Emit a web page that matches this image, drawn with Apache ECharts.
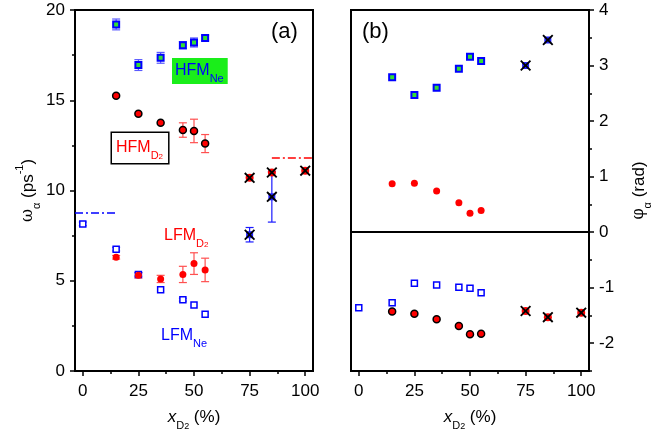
<!DOCTYPE html>
<html>
<head>
<meta charset="utf-8">
<script src="https://cdn.jsdelivr.net/npm/echarts@6/dist/echarts.min.js"></script>
<style>html,body{margin:0;background:#fff}#main{width:654px;height:441px}</style>
</head>
<body>
<div id="main"></div>
<script>
var myChart = echarts.init(document.getElementById('main'));

// composition x_D2 (%)
var xHFM = [15, 25, 35, 45, 50, 55];
var xLFMNe = [0, 15, 25, 35, 45, 50, 55];
var xCrossD2 = [75, 85, 100];
var xCrossNe = [75, 85];

// panel (a): frequencies (ps^-1)
var wHFMNe = [19.2, 16.95, 17.35, 18.05, 18.2, 18.45];
var eHFMNe = [0.3, 0.3, 0.3, 0.2, 0.25, 0.15];
var wHFMD2 = [15.25, 14.25, 13.75, 13.35, 13.3, 12.6];
var eHFMD2 = [0, 0, 0, 0.4, 0.65, 0.5];
var wLFMNe = [8.15, 6.75, 5.35, 4.5, 3.95, 3.65, 3.15];
var eLFMNe = [0.1, 0.1, 0.1, 0, 0.08, 0, 0];
var wLFMD2 = [6.3, 5.3, 5.1, 5.35, 5.95, 5.6];
var eLFMD2 = [0.1, 0.15, 0.2, 0.45, 0.6, 0.65];
var wCrossD2 = [10.7, 11.0, 11.1];
var wCrossNe = [7.55, 9.65];
var eCrossNe = [0.4, 1.4];
var refNeX = [-3.5, 15], refNeW = 8.75;
var refD2X = [85, 103.5], refD2W = 11.8;

// panel (b): phases (rad)
var phHFMNe = [2.79, 2.47, 2.6, 2.94, 3.16, 3.08];
var phCrossNe = [3.0, 3.46];
var phUpperD2 = [0.87, 0.88, 0.74, 0.53, 0.34, 0.39];
var phLFMNe = [-1.36, -1.27, -0.92, -0.95, -0.99, -1.01, -1.09];
var phLowerD2 = [-1.43, -1.47, -1.57, -1.69, -1.84, -1.83];
var phCrossD2 = [-1.42, -1.53, -1.45];

// ticks
var xTicks = [0, 25, 50, 75, 100];
var xMinor = [12.5, 37.5, 62.5, 87.5];
var phTicks = [-2, -1, 0, 1, 2, 3, 4];
var phMinor = [-2.5, -1.5, -0.5, 0.5, 1.5, 2.5, 3.5];

var FONT = 'Liberation Sans';
var BLUE = '#0000ff', RED = '#ff0000', GREEN = '#33dd33';
var XSYM = 'path://M0,1.2L1.2,0L5,3.8L8.8,0L10,1.2L6.2,5L10,8.8L8.8,10L5,6.2L1.2,10L0,8.8L3.8,5Z';

function pts(xs, ys) { return xs.map(function (x, i) { return [x, ys[i]]; }); }

function errBars(g, xs, ys, es, color) {
    var d = [];
    xs.forEach(function (x, i) { if (es[i] > 0) d.push([x, ys[i] - es[i], ys[i] + es[i]]); });
    return {
        type: 'custom', xAxisIndex: g, yAxisIndex: g, z: 1, silent: true, data: d,
        renderItem: function (params, api) {
            var lo = api.coord([api.value(0), api.value(1)]);
            var hi = api.coord([api.value(0), api.value(2)]);
            var st = {stroke: color, lineWidth: 1.2};
            return {type: 'group', children: [
                {type: 'line', shape: {x1: lo[0], y1: lo[1], x2: hi[0], y2: hi[1]}, style: st},
                {type: 'line', shape: {x1: lo[0] - 4, y1: lo[1], x2: lo[0] + 4, y2: lo[1]}, style: st},
                {type: 'line', shape: {x1: hi[0] - 4, y1: hi[1], x2: hi[0] + 4, y2: hi[1]}, style: st}
            ]};
        }
    };
}

function sc(g, data, symbol, size, fill, border, bw, z) {
    return {
        type: 'scatter', xAxisIndex: g, yAxisIndex: g, data: data, symbol: symbol, symbolSize: size,
        z: z || 3, silent: true,
        itemStyle: {color: fill, borderColor: border || fill, borderWidth: bw || 0, opacity: 1}
    };
}

function refLine(xs, w, color) {
    return {
        type: 'line', xAxisIndex: 0, yAxisIndex: 0, data: [[xs[0], w], [xs[1], w]], symbol: 'none',
        silent: true, lineStyle: {color: color, width: 1.5, type: [8, 3, 2, 3]}
    };
}

// rich text for the in-plot labels (zrender uses fill)
function labelRich(color) {
    return {
        a: {fontFamily: FONT, fontSize: 16, lineHeight: 26, fill: color},
        b: {fontFamily: FONT, fontSize: 11, lineHeight: 15, verticalAlign: 'bottom', fill: color},
        c: {fontFamily: FONT, fontSize: 8, lineHeight: 8, verticalAlign: 'bottom', fill: color}
    };
}

var labelStyle = {color: '#000', fontFamily: FONT, fontSize: 17};
var nameRich = {
    m: {fontFamily: FONT, fontSize: 17, lineHeight: 28, color: '#000'},
    i: {fontFamily: FONT, fontSize: 17, lineHeight: 28, fontStyle: 'italic', color: '#000'},
    g: {fontFamily: 'DejaVu Serif', fontSize: 16, lineHeight: 28, color: '#000'},
    s: {fontFamily: FONT, fontSize: 11, lineHeight: 16, verticalAlign: 'bottom', color: '#000'},
    ss: {fontFamily: FONT, fontSize: 9, lineHeight: 9, verticalAlign: 'bottom', color: '#000'},
    p: {fontFamily: FONT, fontSize: 11, lineHeight: 11, verticalAlign: 'top', color: '#000'}
};
var axLine = {show: true, onZero: false, lineStyle: {color: '#000', width: 2}};
var noLine = {show: false, onZero: false};

function xMain(g) {
    return {
        type: 'value', gridIndex: g, min: -3.5, max: 103.5, position: 'bottom',
        axisLine: axLine, splitLine: {show: false},
        axisTick: {show: true, length: 5, lineStyle: {color: '#000', width: 1.5}, customValues: xTicks},
        axisLabel: Object.assign({margin: 12, customValues: xTicks}, labelStyle),
        name: '{i|x}{s|D}{ss|2}{m| (%)}', nameLocation: 'middle', nameGap: 32,
        nameTextStyle: {rich: nameRich}
    };
}
function xMin(g) {
    return {
        type: 'value', gridIndex: g, min: -3.5, max: 103.5, position: 'bottom',
        axisLine: noLine, splitLine: {show: false}, axisLabel: {show: false},
        axisTick: {show: true, length: 3, lineStyle: {color: '#000', width: 1.5}, customValues: xMinor}
    };
}

var option = {
    animation: false,
    backgroundColor: '#fff',
    grid: [
        {left: 75, top: 10, width: 238, height: 361, show: true, borderColor: '#000', borderWidth: 2},
        {left: 351, top: 10, width: 239, height: 361, show: true, borderColor: '#000', borderWidth: 2}
    ],
    xAxis: [xMain(0), xMain(1), xMin(0), xMin(1)],
    yAxis: [
        {
            type: 'value', gridIndex: 0, min: 0, max: 20, interval: 5, position: 'left',
            axisLine: axLine, splitLine: {show: false},
            axisTick: {show: true, length: 5, lineStyle: {color: '#000', width: 1.5}},
            minorTick: {show: true, splitNumber: 2, length: 3, lineStyle: {color: '#000', width: 1.5}},
            axisLabel: Object.assign({margin: 10}, labelStyle),
            name: '{g|ω}{s|α}{m| (ps}{p|-1}{m|)}', nameLocation: 'middle', nameGap: 33, nameRotate: 90,
            nameTextStyle: {rich: nameRich}
        },
        {
            type: 'value', gridIndex: 1, min: -2.5, max: 4, position: 'right',
            axisLine: axLine, splitLine: {show: false},
            axisTick: {show: true, length: 5, lineStyle: {color: '#000', width: 1.5}, customValues: phTicks},
            axisLabel: Object.assign({margin: 10, customValues: phTicks}, labelStyle),
            name: '{g|φ}{s|α}{m| (rad)}', nameLocation: 'middle', nameGap: 36, nameRotate: 90,
            nameTextStyle: {rich: nameRich}
        },
        {
            type: 'value', gridIndex: 1, min: -2.5, max: 4, position: 'right',
            axisLine: noLine, splitLine: {show: false}, axisLabel: {show: false},
            axisTick: {show: true, length: 3, lineStyle: {color: '#000', width: 1.5}, customValues: phMinor}
        }
    ],
    graphic: [
        {type: 'text', x: 271, y: 32, style: {text: '(a)', font: '22px "Liberation Sans"', fill: '#000', verticalAlign: 'middle'}},
        {type: 'text', x: 362, y: 32, style: {text: '(b)', font: '22px "Liberation Sans"', fill: '#000', verticalAlign: 'middle'}},
        {type: 'text', x: 172, y: 71, style: {
            text: '{a|HFM}{b|Ne}', verticalAlign: 'middle', backgroundColor: '#1aee1a', padding: [0, 4, 0, 3],
            rich: labelRich(BLUE)
        }},
        {type: 'text', x: 112, y: 148, style: {
            text: '{a|HFM}{b|D}{c|2}', verticalAlign: 'middle', backgroundColor: '#fff', borderColor: '#000', borderWidth: 1.5,
            padding: [2, 5, 2, 4],
            rich: labelRich(RED)
        }},
        {type: 'text', x: 164, y: 236, style: {text: '{a|LFM}{b|D}{c|2}', verticalAlign: 'middle', rich: labelRich(RED)}},
        {type: 'text', x: 161, y: 336, style: {text: '{a|LFM}{b|Ne}', verticalAlign: 'middle', rich: labelRich(BLUE)}}
    ],
    series: [
        // panel (a)
        errBars(0, xHFM, wHFMNe, eHFMNe, '#5a5aff'),
        errBars(0, xHFM, wHFMD2, eHFMD2, '#ff5050'),
        errBars(0, xHFM, wLFMD2, eLFMD2, '#ff5050'),
        errBars(0, xLFMNe, wLFMNe, eLFMNe, '#5a5aff'),
        errBars(0, xCrossNe, wCrossNe, eCrossNe, '#1a1aff'),
        refLine(refNeX, refNeW, BLUE),
        refLine(refD2X, refD2W, RED),
        sc(0, pts(xHFM, wHFMNe), 'rect', 6, GREEN, BLUE, 2),
        sc(0, pts(xHFM, wHFMD2), 'circle', 7, RED, '#000', 1.5),
        sc(0, pts(xLFMNe, wLFMNe), 'rect', 6, '#fff', BLUE, 1.5),
        sc(0, pts(xHFM, wLFMD2), 'circle', 7, RED),
        sc(0, pts(xCrossD2, wCrossD2), 'circle', 8, RED),
        sc(0, pts(xCrossD2, wCrossD2), XSYM, 11, '#000', null, 0, 4),
        sc(0, pts(xCrossNe, wCrossNe), 'rect', 7, '#2020ff'),
        sc(0, pts(xCrossNe, wCrossNe), XSYM, 11, '#000', null, 0, 4),
        // panel (b)
        {
            type: 'line', xAxisIndex: 1, yAxisIndex: 1, data: [], silent: true,
            markLine: {silent: true, symbol: 'none', label: {show: false},
                lineStyle: {color: '#000', width: 2, type: 'solid'}, data: [{yAxis: 0}]}
        },
        sc(1, pts(xHFM, phHFMNe), 'rect', 6, GREEN, BLUE, 2),
        sc(1, pts(xCrossNe, phCrossNe), 'rect', 7, '#2020ff'),
        sc(1, pts(xCrossNe, phCrossNe), XSYM, 11, '#000', null, 0, 4),
        sc(1, pts(xHFM, phUpperD2), 'circle', 7, RED),
        sc(1, pts(xLFMNe, phLFMNe), 'rect', 6, '#fff', BLUE, 1.5),
        sc(1, pts(xHFM, phLowerD2), 'circle', 7, RED, '#000', 1.5),
        sc(1, pts(xCrossD2, phCrossD2), 'circle', 8, RED),
        sc(1, pts(xCrossD2, phCrossD2), XSYM, 11, '#000', null, 0, 4)
    ]
};

myChart.setOption(option);
</script>
</body>
</html>
